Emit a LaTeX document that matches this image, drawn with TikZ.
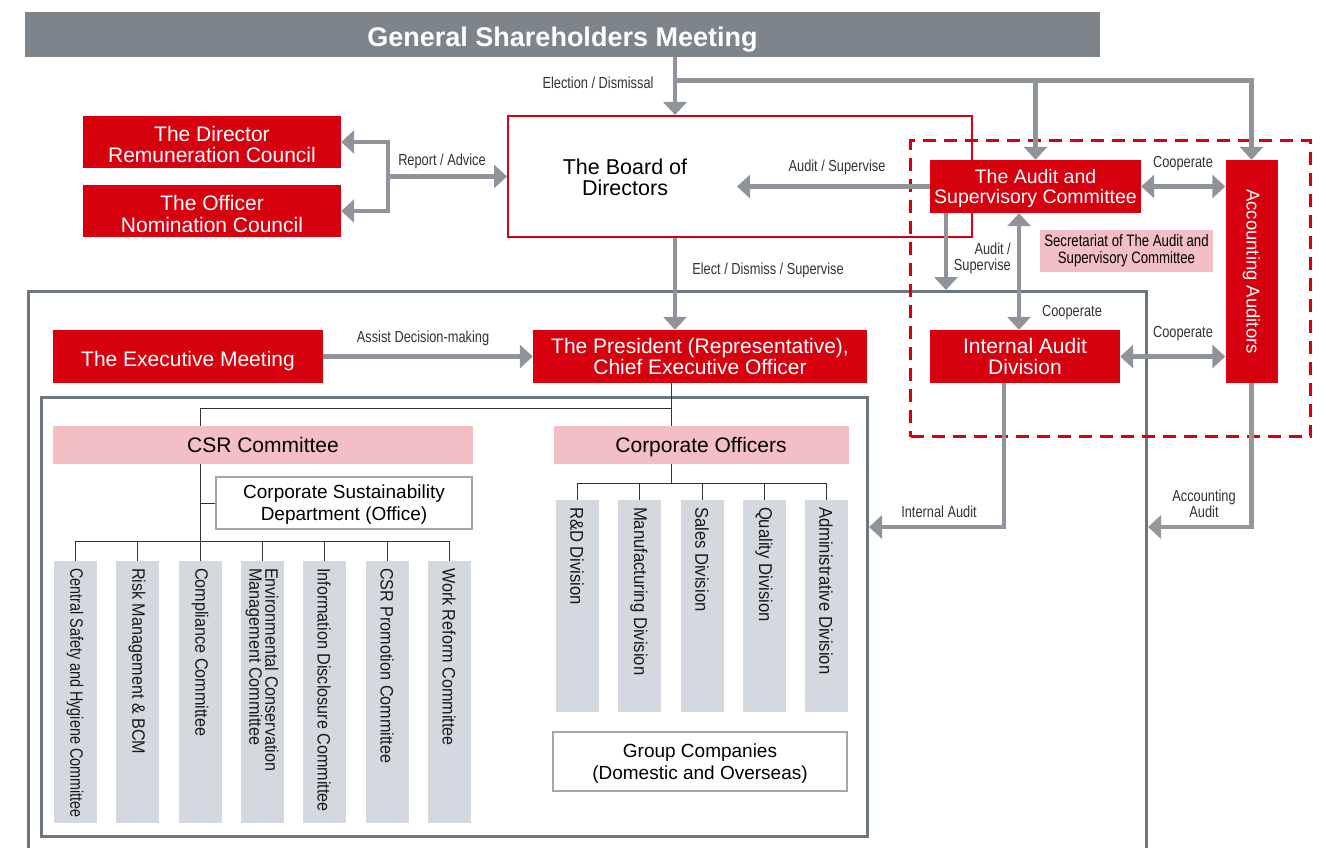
\documentclass[tikz,border=0pt]{standalone}
\usepackage{fontspec}
\setmainfont{Liberation Sans}
\newfontfamily\lblfont[FakeStretch=0.8]{Liberation Sans}
\newfontfamily\barfont[FakeStretch=0.9]{Liberation Sans}
\newfontfamily\narrowfont[FakeStretch=0.8]{Liberation Sans}
\usetikzlibrary{arrows.meta,positioning,calc}

\definecolor{corpred}{HTML}{D7000F}
\definecolor{corppink}{HTML}{F4BFC4}
\definecolor{barfill}{HTML}{D4D9DF}
\definecolor{headgray}{HTML}{7D848A}
\definecolor{arrowgray}{HTML}{8E949A}
\definecolor{warmgray}{HTML}{999793}
\definecolor{framegray}{HTML}{6E767D}
\definecolor{labeltext}{HTML}{333333}

\begin{document}
\begin{tikzpicture}[x=1pt, y=-1pt,
    headline/.style={fill=headgray, text=white, minimum width=1075, minimum height=45, inner sep=0, text height=24, text depth=0, font=\fontsize{27}{30}\selectfont\bfseries},
    redbox/.style={fill=corpred, text=white, inner sep=0, align=center, minimum height=52, text depth=0, font=\fontsize{21}{21}\selectfont},
    pinkbar/.style={fill=corppink, inner sep=0, minimum height=38, text depth=0, font=\fontsize{21}{24}\selectfont},
    greybar/.style={fill=barfill, inner sep=0, minimum width=43},
    vtext/.style={rotate=-90, anchor=west, inner sep=0, align=left, text=black!90, font=\barfont\fontsize{18}{16}\selectfont},
    outline/.style={draw=black!35, line width=1.2, fill=white, inner sep=0, align=center, text depth=0, font=\fontsize{19}{22}\selectfont},
    frame/.style={draw=framegray, line width=3, inner sep=0},
    lbl/.style={text=labeltext, inner sep=1, align=center, font=\lblfont\fontsize{16}{16}\selectfont},
    conn/.style={draw=arrowgray, line width=4.5, >={Triangle[width=23pt,length=13pt]}, ->},
    both/.style={conn, <->},
    tree/.style={draw=black!80, line width=1}
]
\useasboundingbox (0,0) rectangle (1326,848);

% frames behind everything
\node[frame, minimum width=1118, minimum height=600, anchor=north west] (outer) at (27,290) {};
\node[frame, minimum width=826, minimum height=439, anchor=north west] (inner) at (40,396) {};

% top level
\node[headline] (gsm) at (562.5,34.5) {General Shareholders Meeting};
\node[draw=corpred, line width=2, fill=white, minimum width=464, minimum height=121, inner sep=0] (board) at (740,176.5) {};
\node[font=\fontsize{21.5}{21}\selectfont, align=center, text depth=0] (boardtxt) at (625,177) {The Board of\\Directors};
\node[redbox, minimum width=258, text height=42] (drc) at (212,142) {The Director\\Remuneration Council};
\node[redbox, minimum width=258, text height=42] (onc) at (212,211) {The Officer\\Nomination Council};

% audit group
\node[draw=corpred, line width=3.2, dash pattern=on 13pt off 8pt, minimum width=400, minimum height=296, anchor=north west] (auditzone) at (909,139) {};
\node[redbox, minimum width=211, minimum height=53, font=\fontsize{19.5}{20.5}\selectfont] (asc) at (1035.5,186.5) {The Audit and\\Supervisory Committee};
\node[redbox, minimum width=52, minimum height=223, text depth=, font=\fontsize{18.5}{18}\selectfont] (acc) at (1251.5,271.5) {\rotatebox{-90}{Accounting Auditors}};
\node[redbox, minimum width=190, minimum height=53] (iad) at (1025,356.5) {Internal Audit\\Division};
\node[fill=corppink, minimum width=173, minimum height=42, inner sep=0, align=center, font=\lblfont\fontsize{16.5}{17}\selectfont] (sec) at (1126.5,251) {Secretariat of The Audit and\\Supervisory Committee};

% executive side
\node[redbox, minimum width=270, minimum height=53, text height=19] (exm) at (188,356.5) {The Executive Meeting};
\node[redbox, minimum width=334, minimum height=53] (pres) at (700,356.5) {The President (Representative),\\Chief Executive Officer};
\node[pinkbar, minimum width=420] (csr) at (263,445) {CSR Committee};
\node[pinkbar, minimum width=295] (co) at (701,445) {Corporate Officers};
\node[outline, minimum width=256, minimum height=52] (csd) at (344,503) {Corporate Sustainability\\Department (Office)};
\node[outline, minimum width=294, minimum height=59] (grp) at (700,761.5) {Group Companies\\(Domestic and Overseas)};

\foreach \i/\cx/\lab in {1/75/{\narrowfont Central Safety and Hygiene Committee}, 2/137/{Risk Management \& BCM}, 3/200/{Compliance Committee}, 4/262/{Environmental Conservation\\Management Committee}, 5/324/{Information Disclosure Committee}, 6/387/{CSR Promotion Committee}, 7/449/{Work Reform Committee}}{
  \node[greybar, minimum height=262] (c\i) at (\cx,692) {};
  \node[vtext] (ct\i) at ([yshift=-7]c\i.north) {\lab};
}
\foreach \i/\cx/\lab in {1/577/{R\&D Division}, 2/639/{Manufacturing Division}, 3/702/{Sales Division}, 4/764/{Quality Division}, 5/826/{Administrative Division}}{
  \node[greybar, minimum height=212] (d\i) at (\cx,606) {};
  \node[vtext, font=\barfont\fontsize{18.5}{16}\selectfont] (dt\i) at ([yshift=-7]d\i.north) {\lab};
}

% tree lines
\coordinate (tx) at (671,408);
\coordinate (cbar) at (0,541);
\coordinate (dbar) at (0,483);
\draw[tree] (pres.south -| tx) -- (co.north -| tx);
\draw[tree] (tx) -| (csr.north -| c3);
\draw[tree] (csr.south -| c3) -- (c3.north);
\draw[tree] (csd.west) -- (csd.west -| c3);
\draw[tree] (c1 |- cbar) -- (c7 |- cbar);
\foreach \i in {1,...,7} \draw[tree] (c\i |- cbar) -- (c\i.north);
\draw[tree] (co.south -| tx) -- (tx |- dbar);
\draw[tree] (d1 |- dbar) -- (d5 |- dbar);
\foreach \i in {1,...,5} \draw[tree] (d\i |- dbar) -- (d\i.north);

% arrows
\coordinate (elect) at (675,80.5);
\coordinate (rep) at (388,176.5);
\coordinate (boardin) at (737,186.5);
\coordinate (coopx) at (1019,0);
\coordinate (supx) at (946,0);
\coordinate (iax) at (1004,527);
\draw[conn] (gsm.south -| elect) -- (board.north -| elect);
\draw[conn] (elect) -| (acc.north);
\draw[conn] (asc.north |- elect) -- (asc.north);
\draw[conn] (rep) -- (board.west);
\draw[conn] (rep) |- (drc.east);
\draw[conn] (rep) |- (onc.east);
\draw[conn] (asc.west) -- (boardin);
\draw[both] (asc.east) -- (asc.east -| acc.west);
\draw[both] (iad.east) -- (iad.east -| acc.west);
\draw[both] (asc.south -| coopx) -- (iad.north -| coopx);
\draw[conn] (asc.south -| supx) -- (outer.north -| supx);
\draw[conn] (board.south -| elect) -- (pres.north -| elect);
\draw[conn] (exm.east) -- (pres.west);
\draw[conn] (iad.south -| iax) |- (inner.east |- iax);
\draw[conn, draw=warmgray] (acc.south) |- (outer.east |- iax);

% labels
\node[lbl] (lelect) at (598,83) {Election / Dismissal};
\node[lbl] (lreport) at (442,161) {Report / Advice};
\node[lbl] (laudit) at (837,167) {Audit / Supervise};
\node[lbl] (lcoop1) at (1183,164) {Cooperate};
\node[lbl, anchor=east, align=right] (lsup) at (1012,258) {Audit /\\Supervise};
\node[lbl] (lcoop2) at (1072,313) {Cooperate};
\node[lbl] (lcoop3) at (1183,334) {Cooperate};
\node[lbl] (ldismiss) at (768,270) {Elect / Dismiss / Supervise};
\node[lbl] (lassist) at (423,338) {Assist Decision-making};
\node[lbl] (linternal) at (939,512) {Internal Audit};
\node[lbl] (laccount) at (1204,504) {Accounting\\Audit};
\end{tikzpicture}
\end{document}
